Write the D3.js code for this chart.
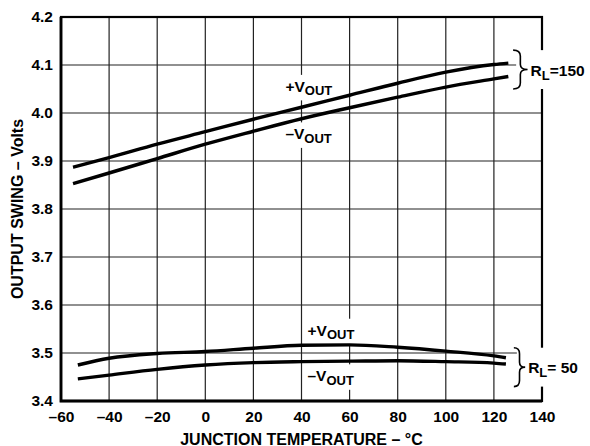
<!DOCTYPE html>
<html>
<head>
<meta charset="utf-8">
<script src="https://cdn.jsdelivr.net/npm/d3@7"></script>
<style>
  body { margin: 0; background: #fff; }
  svg { font-family: "Liberation Sans", Arial, Helvetica, sans-serif; font-weight: bold; }
  .grid line { stroke: #222; stroke-width: 1.2; }
  .curve { fill: none; stroke: #000; stroke-width: 3.4; }
</style>
</head>
<body>
<div id="chart"></div>
<script>
// Values
const tempTicks = [-60, -40, -20, 0, 20, 40, 60, 80, 100, 120, 140];
const voltTicks = [3.4, 3.5, 3.6, 3.7, 3.8, 3.9, 4.0, 4.1, 4.2];

// R_L = 150 curves
const tempHi = [-55, -40, -20, 0, 20, 40, 60, 80, 100, 120, 126];
const plusHi = [3.887, 3.907, 3.935, 3.961, 3.987, 4.012, 4.037, 4.062, 4.085, 4.101, 4.104];
const minusHi = [3.853, 3.875, 3.905, 3.935, 3.962, 3.988, 4.011, 4.033, 4.054, 4.071, 4.076];

// R_L = 50 curves
const tempLo = [-53, -40, -20, 0, 20, 40, 60, 80, 100, 120, 125];
const plusLo = [3.475, 3.489, 3.499, 3.503, 3.510, 3.516, 3.517, 3.512, 3.504, 3.494, 3.490];
const minusLo = [3.446, 3.454, 3.466, 3.475, 3.480, 3.482, 3.483, 3.484, 3.482, 3.479, 3.477];

const margin = {top: 17, right: 48, bottom: 45, left: 61};
const W = 590, H = 446;
const width = W - margin.left - margin.right;
const height = H - margin.top - margin.bottom;

const svg = d3.select('#chart')
    .append('svg')
    .attr('width', W)
    .attr('height', H);

const g = svg.append('g')
    .attr('transform', `translate(${margin.left}, ${margin.top})`);

const x = d3.scaleLinear().domain([-60, 140]).range([0, width]);
const y = d3.scaleLinear().domain([3.4, 4.2]).range([height, 0]);

// grid lines
g.append('g').attr('class', 'grid')
    .selectAll('line').data(tempTicks).join('line')
    .attr('x1', d => x(d)).attr('x2', d => x(d))
    .attr('y1', 0).attr('y2', height);
g.append('g').attr('class', 'grid')
    .selectAll('line').data(voltTicks).join('line')
    .attr('x1', 0).attr('x2', width)
    .attr('y1', d => y(d)).attr('y2', d => y(d));

// frame
g.append('rect')
    .attr('width', width).attr('height', height)
    .attr('fill', 'none').attr('stroke', '#000').attr('stroke-width', 2.2);
g.append('path')
    .attr('d', `M0,0V${height}H${width}`)
    .attr('fill', 'none').attr('stroke', '#000').attr('stroke-width', 2.8);

// tick labels via axes
const fmtT = d => (d < 0 ? '\u2013' + Math.abs(d) : d);
g.append('g')
    .attr('transform', `translate(0, ${height})`)
    .call(d3.axisBottom(x).tickValues(tempTicks).tickFormat(fmtT).tickSize(0).tickPadding(10))
    .call(a => a.select('.domain').remove())
    .selectAll('text')
    .attr('font-size', 15.5).attr('font-family', null).attr('fill', '#000');

g.append('g')
    .call(d3.axisLeft(y).tickValues(voltTicks).tickFormat(d3.format('.1f')).tickSize(0).tickPadding(8))
    .call(a => a.select('.domain').remove())
    .selectAll('text')
    .attr('font-size', 15.5).attr('font-family', null).attr('fill', '#000');

// labels with white background (knock out the grid, drawn under curves)
function vLabel(sign, tx, vy) {
    const lg = g.append('g');
    const txt = lg.append('text')
        .attr('x', x(tx)).attr('y', y(vy))
        .attr('font-size', 15.5);
    txt.append('tspan').text(sign + 'V');
    txt.append('tspan').attr('font-size', 13).attr('dy', 3.5).text('OUT');
    const b = txt.node().getBBox();
    lg.insert('rect', 'text')
        .attr('x', b.x - 3).attr('y', b.y - 3)
        .attr('width', b.width + 6).attr('height', b.height + 5)
        .attr('fill', '#fff');
}
vLabel('+', 33.3, 4.044);
vLabel('\u2013', 33.3, 3.945);
vLabel('+', 42.5, 3.536);
vLabel('\u2013', 42.5, 3.441);

// curves
const line = d3.line()
    .x(d => x(d[0]))
    .y(d => y(d[1]))
    .curve(d3.curveMonotoneX);

[[tempHi, plusHi], [tempHi, minusHi], [tempLo, plusLo], [tempLo, minusLo]].forEach(([t, v]) => {
    g.append('path')
        .datum(d3.zip(t, v))
        .attr('class', 'curve')
        .attr('d', line);
});

// braces with R_L labels
function brace(t0, t1, vTop, vBot, label) {
    const bg = g.append('g');
    const x0 = x(t0), x1 = x(t1);
    const yT = y(vTop), yB = y(vBot), yM = (yT + yB) / 2;
    const xm = (x0 + x1) / 2;
    bg.append('rect')
        .attr('x', x0 + 3).attr('y', yT)
        .attr('width', W - margin.left - x0 - 3).attr('height', yB - yT)
        .attr('fill', '#fff');
    bg.append('path')
        .attr('d', `M${x0},${yT}Q${xm},${yT} ${xm},${yT + 6}L${xm},${yM - 5}Q${xm},${yM} ${x1},${yM}` +
                   `Q${xm},${yM} ${xm},${yM + 5}L${xm},${yB - 6}Q${xm},${yB} ${x0},${yB}`)
        .attr('fill', 'none').attr('stroke', '#000').attr('stroke-width', 1.6);
    const txt = bg.append('text')
        .attr('x', x1 + 3).attr('y', yM + 6)
        .attr('font-size', 15.5);
    txt.append('tspan').text('R');
    txt.append('tspan').attr('font-size', 13).attr('dy', 4).text('L');
    txt.append('tspan').attr('dy', -4).text(label);
}
brace(128, 134, 4.131, 4.050, '=150');
brace(128.3, 133, 3.511, 3.430, '= 50');

// axis titles
svg.append('text')
    .attr('x', margin.left + width / 2)
    .attr('y', 444.5)
    .attr('text-anchor', 'middle')
    .attr('font-size', 16)
    .text('JUNCTION TEMPERATURE \u2013 \u00b0C');

svg.append('text')
    .attr('transform', `translate(23, ${margin.top + height / 2}) rotate(-90)`)
    .attr('text-anchor', 'middle')
    .attr('font-size', 16)
    .text('OUTPUT SWING \u2013 Volts');
</script>
</body>
</html>
